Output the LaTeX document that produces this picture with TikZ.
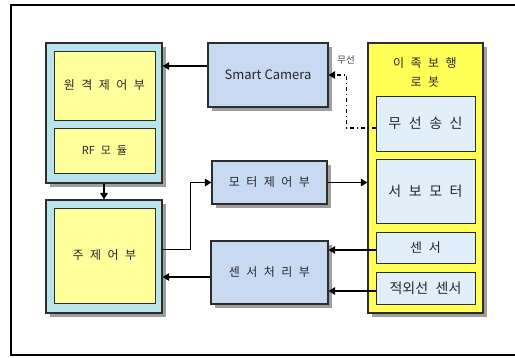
\documentclass[tikz,border=0pt]{standalone}
\usepackage{fontspec}
\setmainfont[WordSpace=2.4]{Noto Sans CJK KR}
\newfontfamily\plainfont{Noto Sans CJK KR}
\usetikzlibrary{arrows.meta,shadows}

\definecolor{panelblue}{RGB}{185,228,238}
\definecolor{paleyellow}{RGB}{255,255,155}
\definecolor{robotyellow}{RGB}{255,255,85}
\definecolor{boxblue}{RGB}{200,218,242}
\definecolor{paleblue}{RGB}{224,239,250}
\definecolor{edge}{RGB}{45,45,45}

\tikzset{
  shade/.style={drop shadow={shadow xshift=4pt,shadow yshift=-4pt,fill=black,opacity=0.38}},
  panel/.style={draw=edge,line width=1.2pt,fill=panelblue,shade,minimum width=116pt,inner sep=0pt},
  unit/.style={draw=edge,line width=1pt,fill=paleyellow,minimum width=101pt,inner sep=0pt,
    text=black!85,font=\fontsize{12}{14}\selectfont},
  block/.style={draw=edge,line width=1.2pt,fill=boxblue,shade,inner sep=0pt,
    text=black!85,font=\fontsize{12}{14}\selectfont},
  robotpanel/.style={draw=edge,line width=1.2pt,fill=robotyellow,shade,inner sep=0pt},
  part/.style={draw=edge,line width=1pt,fill=paleblue,minimum width=99pt,inner sep=0pt,
    text=black!85,font=\fontsize{14}{16}\selectfont},
  arr/.style={line width=1.3pt,-{Triangle[length=6.5pt,width=7.5pt]}},
  radio/.style={arr,dash pattern=on 4pt off 3pt on 1pt off 3pt}
}

\begin{document}
\begin{tikzpicture}[x=1pt,y=-1pt]
    \useasboundingbox (0,0) rectangle (515,357);

    %%%%%%%%% Cornice %%%%%%%%%
    \begin{scope}
        \clip (0,0) rectangle (515,357);
        \draw[line width=2pt] (11,5) rectangle (540,355);
    \end{scope}

    %%%%%%% Controllo %%%%%%%
    \node[panel,minimum height=140pt] (rpanel) at (104,113) {};
    \node[unit,minimum height=69pt] (remote) at (104.5,85.5) {원 격 제 어 부};
    \node[unit,minimum height=45pt,font=\fontsize{11}{13}\selectfont] (rf) at (104.5,150.5) {RF 모 듈};

    \node[panel,minimum height=113pt] (mpanel) at (104,256.5) {};
    \node[unit,minimum height=95pt] (main) at (104.5,255.5) {주 제 어 부};

    %%%%%%%%% Blocchi %%%%%%%%%
    \node[block,minimum width=120pt,minimum height=64pt,font=\plainfont\fontsize{13}{15}\selectfont] (camera) at (268,75) {Smart Camera};
    \node[block,minimum width=115pt,minimum height=43pt] (motorctl) at (269.5,182.5) {모 터 제 어 부};
    \node[block,minimum width=117pt,minimum height=63pt] (sproc) at (269.5,272.5) {센 서 처 리 부};

    %%%%%%%%% Robot %%%%%%%%%
    \node[robotpanel,minimum width=115pt,minimum height=270pt] (robot) at (425.5,178) {};
    \node[align=center,text=black!85,font=\fontsize{12}{19}\selectfont] (title) at (425,72.5) {이 족 보 행\\로 봇};
    \node[part,minimum height=55pt] (wireless) at (425.5,123.5) {무 선 송 신};
    \node[part,minimum height=64pt] (servo) at (425.5,191) {서 보 모 터};
    \node[part,minimum height=31pt,font=\fontsize{13}{15}\selectfont] (sensor) at (425.5,247.5) {센 서};
    \node[part,minimum height=32pt] (ir) at (425.5,288) {적외선 센서};

    %%%%%%% Collegamenti %%%%%%%
    \draw[arr] ([yshift=9pt]camera.west) coordinate (c1) -- (c1 -| rpanel.east);
    \draw[arr] (rpanel) -- (mpanel);
    \draw[arr] ([yshift=7pt]mpanel.east) -- ++(28,0) |- (motorctl.west);
    \draw[arr] (motorctl.east) -- (motorctl.east -| robot.west);
    \draw[arr] ([yshift=-2.5pt]sensor.west) coordinate (c2) -- (c2 -| sproc.east);
    \draw[arr] ([yshift=-3pt]ir.west) coordinate (c3) -- (c3 -| sproc.east);
    \draw[arr] ([yshift=-4.5pt]sproc.west) coordinate (c4) -- (c4 -| mpanel.east);

    %%%%%%%%% Radio %%%%%%%%%
    \draw[radio] ([yshift=-4.5pt]wireless.west) -- ++(-29,0) |- (camera.east);
    \node[text=black!75,font=\fontsize{9.5}{11}\selectfont,inner sep=0pt] (radiolabel) at (346,60) {무선};
\end{tikzpicture}
\end{document}
